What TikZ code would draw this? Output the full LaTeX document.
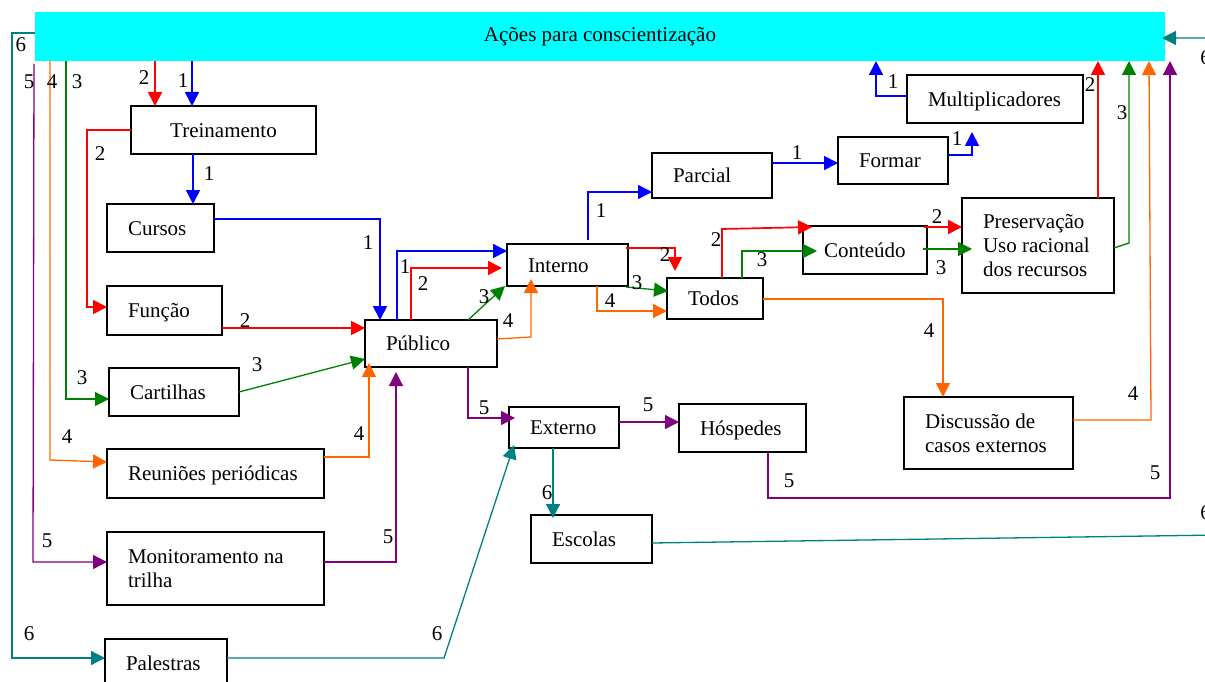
\documentclass[tikz,border=0pt]{standalone}
\usepackage{fontspec}
\setmainfont{Liberation Serif}
\usetikzlibrary{arrows.meta,calc}
\definecolor{cBlue}{RGB}{0,0,255}
\definecolor{cRed}{RGB}{255,0,0}
\definecolor{cGreen}{RGB}{0,128,0}
\definecolor{cOrange}{RGB}{255,102,0}
\definecolor{cPurple}{RGB}{128,0,128}
\definecolor{cTeal}{RGB}{0,128,128}
\definecolor{cBar}{RGB}{0,255,255}
\begin{document}
\begin{tikzpicture}[x=1pt,y=-1pt,
  every node/.style={font=\fontsize{21}{24}\selectfont,
    execute at begin node={\hyphenpenalty=10000\relax}},
  bx/.style={draw=black, line width=1.3pt, fill=white, anchor=north west,
    inner xsep=21pt, inner ysep=0pt, outer sep=0pt, align=flush left},
  oneline/.style={text height=14.5pt, text depth=0pt},
  lbl/.style={inner sep=0pt, anchor=center},
  tipA/.style={-{Triangle[length=14pt,width=14pt]}},
  lnB/.style={draw=cBlue, line width=1.7pt, tipA},
  lnR/.style={draw=cRed, line width=1.7pt, tipA},
  lnG/.style={draw=cGreen, line width=1.3pt, tipA},
  lnO/.style={draw=cOrange, line width=1.3pt, tipA},
  lnP/.style={draw=cPurple, line width=1.3pt, tipA},
  lnT/.style={draw=cTeal, line width=1.3pt, tipA},
]
\useasboundingbox (0,0) rectangle (1205,682);

% title bar
\node[fill=cBar, anchor=north west, inner sep=0pt, outer sep=0pt,
      minimum width=1130pt, minimum height=49pt] (bar) at (35,12)
      {Ações para conscientização};

% boxes
\node[bx, oneline, minimum width=185pt, minimum height=48pt, text width=143pt, align=center] (trein) at (131,106) {Treinamento};
\node[bx, oneline, minimum width=107pt, minimum height=48pt, text width=65pt] (cursos) at (107,204) {Cursos};
\node[bx, oneline, minimum width=115pt, minimum height=49pt, text width=73pt] (funcao) at (107,286) {Função};
\node[bx, oneline, minimum width=130pt, minimum height=48pt, text width=88pt] (cart) at (109,368) {Cartilhas};
\node[bx, oneline, minimum width=217pt, minimum height=49pt, text width=175pt] (reun) at (107,449) {\mbox{Reuniões periódicas}};
\node[bx, minimum width=217pt, minimum height=73pt, text width=175pt] (monit) at (107,532) {Monitoramento na\\trilha};
\node[bx, oneline, minimum width=122pt, minimum height=48pt, text width=80pt] (pal) at (105,639) {Palestras};
\node[bx, oneline, minimum width=132pt, minimum height=47pt, text width=90pt] (pub) at (365,320) {Público};
\node[bx, oneline, minimum width=121pt, minimum height=42pt, text width=79pt] (int) at (507,244) {Interno};
\node[bx, oneline, minimum width=120pt, minimum height=45pt, text width=78pt] (parc) at (652,153) {Parcial};
\node[bx, oneline, minimum width=110pt, minimum height=47pt, text width=68pt] (formar) at (838,137) {Formar};
\node[bx, oneline, minimum width=176pt, minimum height=48pt, text width=134pt] (mult) at (907,75) {\mbox{Multiplicadores}};
\node[bx, oneline, minimum width=96pt, minimum height=41pt, text width=54pt] (todos) at (667,278) {\mbox{Todos}};
\node[bx, oneline, minimum width=124pt, minimum height=48pt, text width=82pt] (cont) at (803,226) {\mbox{Conteúdo}};
\node[bx, minimum width=152pt, minimum height=95pt, text width=110pt] (pres) at (962,198) {Preservação\\Uso racional\\dos recursos};
\node[bx, minimum width=169pt, minimum height=72pt, text width=127pt] (disc) at (904,397) {Discussão de\\casos externos};
\node[bx, oneline, minimum width=127pt, minimum height=48pt, text width=85pt] (hosp) at (679,404) {Hóspedes};
\node[bx, oneline, minimum width=110pt, minimum height=41pt, text width=68pt] (ext) at (509,407) {\mbox{Externo}};
\node[bx, oneline, minimum width=121pt, minimum height=48pt, text width=79pt] (esc) at (531,515) {Escolas};

% route 1 (blue)
\draw[lnB] ($(bar.south west)+(157,0)$) -- ($(trein.north west)+(61,0)$);
\draw[lnB] ($(trein.south west)+(62,0)$) -- ($(cursos.north west)+(86,0)$);
\draw[lnB] ($(cursos.north east)+(0,15)$) -| ($(pub.north west)+(15,0)$);
\draw[lnB] ($(pub.north west)+(32,0)$) |- ($(int.north west)+(0,7)$);
\draw[lnB] ($(int.north west)+(81,-4)$) |- ($(parc.north west)+(0,39)$);
\draw[lnB] ($(parc.north east)+(0,10)$) -- ($(formar.north west)+(0,26)$);
\draw[lnB] ($(formar.north east)+(0,18)$) -| ($(mult.south west)+(65,9)$);
\draw[lnB] ($(mult.north west)+(0,21)$) -| ($(bar.south west)+(841,0)$);

% route 2 (red)
\draw[lnR] ($(bar.south west)+(120,0)$) -- ($(trein.north west)+(24,0)$);
\draw[lnR] ($(trein.north west)+(0,24)$) -| ($(funcao.north west)+(-20,21)$) -- ($(funcao.north west)+(0,21)$);
\draw[lnR] ($(funcao.north east)+(0,42)$) -- ($(pub.north west)+(0,8)$);
\draw[lnR] ($(pub.north west)+(46,0)$) |- ($(int.north west)+(-5,24)$);
\draw[lnR] ($(int.north east)+(-2,4)$) -| ($(todos.north west)+(8,-7)$);
\draw[lnR] ($(todos.north west)+(55,0)$) -- ($(todos.north west)+(55,-49)$) -- ($(cont.north west)+(9,1)$);
\draw[lnR] ($(cont.north east)+(-3,1)$) -- ($(pres.north west)+(0,29)$);
\draw[lnR] ($(pres.north west)+(136,0)$) -- ($(bar.south west)+(1063,0)$);

% route 3 (green)
\draw[lnG] ($(bar.south west)+(31,0)$) |- ($(cart.north west)+(0,31)$);
\draw[lnG] ($(cart.north east)+(0,24)$) -- ($(pub.north west)+(0,39)$);
\draw[lnG] ($(pub.north west)+(103,0)$) -- ($(int.south west)+(-2,0)$);
\draw[lnG] ($(int.south east)+(-2,1)$) -- ($(todos.north west)+(1,13)$);
\draw[lnG] ($(todos.north west)+(75,0)$) |- ($(cont.north west)+(14,25)$);
\draw[lnG] ($(cont.north east)+(-4,23)$) -- ($(pres.north west)+(10,51)$);
\draw[lnG] ($(pres.north east)+(0,50)$) -- ($(pres.north east)+(15,45)$) -- ($(bar.south west)+(1094,0)$);

% route 4 (orange)
\draw[lnO] ($(bar.south west)+(15,0)$) -- ($(reun.north west)+(-57,11)$) -- ($(reun.north west)+(0,13)$);
\draw[lnO] ($(reun.north east)+(0,8)$) -| ($(pub.south west)+(4,-4)$);
\draw[lnO] ($(pub.north east)+(0,19)$) -- ($(int.south west)+(24,51)$) -- ($(int.south west)+(24,-7)$);
\draw[lnO] ($(int.south west)+(90,0)$) |- ($(todos.north west)+(0,33)$);
\draw[lnO] ($(todos.north east)+(0,21)$) -| ($(disc.north west)+(39,0)$);
\draw[lnO] ($(disc.north east)+(0,23)$) -- ($(disc.north east)+(78,23)$) -- ($(bar.south west)+(1114,0)$);

% route 5 (purple)
\draw[lnP] ($(bar.south west)+(-1,3)$) -- ($(monit.north west)+(-74,30)$) -- ($(monit.north west)+(0,30)$);
\draw[lnP] ($(monit.north east)+(0,30)$) -| ($(pub.south west)+(31,5)$);
\draw[lnP] ($(pub.south west)+(103,0)$) |- ($(ext.north west)+(6,11)$);
\draw[lnP] ($(ext.north east)+(0,15)$) -- ($(hosp.north west)+(0,18)$);
\draw[lnP] ($(hosp.south west)+(89,0)$) |- ($(bar.south west)+(1135,437)$) -- ($(bar.south west)+(1135,0)$);

% route 6 (teal)
\draw[lnT] ($(bar.north west)+(0,21)$) -| ($(pal.north west)+(-93,19)$) -- ($(pal.north west)+(0,19)$);
\draw[lnT] ($(pal.north east)+(0,19)$) -- ($(ext.south west)+(-65,210)$) -- ($(ext.south west)+(5,-3)$);
\draw[lnT] ($(ext.south west)+(44,0)$) -- ($(esc.north west)+(22,3)$);
\draw[lnT] ($(esc.north east)+(0,28)$) -- ($(bar.north east)+(55,523)$) -- ($(bar.north east)+(55,26)$) -- ($(bar.north east)+(-3,26)$);

% route numbers
\node[lbl] (la1) at (183,81) {1};
\node[lbl] (la2) at (209,174) {1};
\node[lbl] (la3) at (368,243) {1};
\node[lbl] (la4) at (405,267) {1};
\node[lbl] (la5) at (601,211) {1};
\node[lbl] (la6) at (797,153) {1};
\node[lbl] (la7) at (893,82) {1};
\node[lbl] (la8) at (957,139) {1};

\node[lbl] (lb1) at (144,78) {2};
\node[lbl] (lb2) at (100,154) {2};
\node[lbl] (lb3) at (245,321) {2};
\node[lbl] (lb4) at (423,284) {2};
\node[lbl] (lb5) at (665,255) {2};
\node[lbl] (lb6) at (716,240) {2};
\node[lbl] (lb7) at (937,217) {2};
\node[lbl] (lb8) at (1090,85) {2};

\node[lbl] (lc1) at (77,82) {3};
\node[lbl] (lc2) at (82,378) {3};
\node[lbl] (lc3) at (257,365) {3};
\node[lbl] (lc4) at (484,297) {3};
\node[lbl] (lc5) at (637,283) {3};
\node[lbl] (lc6) at (762,260) {3};
\node[lbl] (lc7) at (941,268) {3};
\node[lbl] (lc8) at (1122,113) {3};

\node[lbl] (ld1) at (52,82) {4};
\node[lbl] (ld2) at (67,437) {4};
\node[lbl] (ld3) at (359,434) {4};
\node[lbl] (ld4) at (508,321) {4};
\node[lbl] (ld5) at (610,301) {4};
\node[lbl] (ld6) at (929,331) {4};
\node[lbl] (ld7) at (1133,394) {4};

\node[lbl] (le1) at (29,82) {5};
\node[lbl] (le2) at (47,541) {5};
\node[lbl] (le3) at (388,537) {5};
\node[lbl] (le4) at (484,408) {5};
\node[lbl] (le5) at (648,405) {5};
\node[lbl] (le6) at (789,481) {5};
\node[lbl] (le7) at (1155,473) {5};

\node[lbl] (lf1) at (21,45) {6};
\node[lbl] (lf2) at (29,634) {6};
\node[lbl] (lf3) at (437,634) {6};
\node[lbl] (lf4) at (547,493) {6};
\node[lbl] (lf5) at (1205.5,58) {6};
\node[lbl] (lf6) at (1205.5,513) {6};
\end{tikzpicture}
\end{document}
